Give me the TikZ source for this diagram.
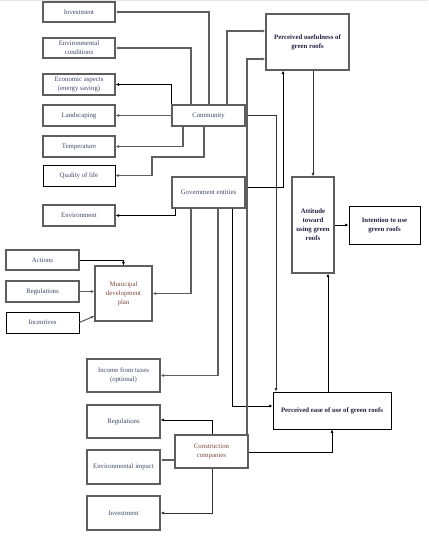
\documentclass[tikz,border=0pt]{standalone}
\usepackage{fontspec}
\setmainfont{Liberation Serif}
\usetikzlibrary{arrows.meta}
\definecolor{txt}{HTML}{3D4A66}
\definecolor{txtb}{HTML}{7A4A3A}
\definecolor{txtk}{HTML}{1E2240}
\definecolor{gline}{HTML}{5E5E5E}
\begin{document}
\begin{tikzpicture}[x=1pt,y=-1pt,
  box/.style={draw=gline, line width=1.1pt, fill=white, align=center, inner sep=1pt,
    font=\fontsize{6.8}{9}\selectfont, text=txt},
  kbox/.style={box, draw=black, line width=0.7pt},
  bold/.style={font=\fontsize{6.8}{9}\selectfont\bfseries, text=txtk},
  arr/.style={-{Latex[length=3.5pt,width=3pt]}},
  gl/.style={arr, draw=gline, line width=1.1pt},
  dl/.style={arr, draw=black!80, line width=0.8pt},
  bl/.style={arr, draw=black, line width=0.65pt}]
\useasboundingbox (0,0) rectangle (428,540);
\fill[black!10] (0,0) rectangle (428,1.5);
% nodes
\node[box, minimum width=72pt, minimum height=20pt] (inv1) at (79,12) {Investment};
\node[box, minimum width=72pt, minimum height=20pt] (envc) at (79,48) {Environmental\\conditions};
\node[box, minimum width=72pt, minimum height=21pt] (econ) at (79,84.5) {Economic aspects\\(energy saving)};
\node[box, minimum width=72pt, minimum height=21pt] (land) at (79,115.5) {Landscaping};
\node[box, minimum width=72pt, minimum height=21pt] (temp) at (79,146.5) {Temperature};
\node[kbox, minimum width=72pt, minimum height=21pt] (qol) at (79,175.5) {Quality of life};
\node[box, minimum width=72pt, minimum height=21pt] (env) at (79,215.5) {Environment};
\node[box, minimum width=73pt, minimum height=21pt] (comm) at (208.5,115.5) {Community};
\node[box, minimum width=73pt, minimum height=31pt] (gov) at (208.5,192.5) {Government entities};
\node[box, minimum width=73pt, minimum height=20pt] (act) at (42.5,260) {Actions};
\node[box, minimum width=73pt, minimum height=21pt] (reg1) at (42.5,291.5) {Regulations};
\node[kbox, minimum width=73pt, minimum height=21pt] (inc) at (42.5,322.5) {Incentives};
\node[box, minimum width=57pt, minimum height=55pt, text=txtb] (mdp) at (123.5,293.5) {Municipal\\development\\plan};
\node[box, minimum width=73pt, minimum height=33pt] (tax) at (123.5,375.5) {Income from taxes\\(optional)};
\node[box, minimum width=73pt, minimum height=33pt] (reg2) at (123.5,421.5) {Regulations};
\node[box, minimum width=73pt, minimum height=34pt] (envi) at (123.5,467) {Environmental impact};
\node[box, minimum width=73pt, minimum height=34pt] (inv2) at (123.5,513) {Investment};
\node[box, minimum width=73pt, minimum height=33pt, text=txtb] (cc) at (211.5,451.5) {Construction\\companies};
\node[box, bold, minimum width=83pt, minimum height=56pt] (pu) at (307.5,42) {Perceived usefulness of\\green roofs};
\node[box, bold, minimum width=42pt, minimum height=96pt] (att) at (313,225) {Attitude\\toward\\using green\\roofs};
\node[kbox, bold, minimum width=71pt, minimum height=38pt] (int) at (384.5,225) {Intention to use\\green roofs};
\node[kbox, bold, minimum width=118pt, minimum height=37pt] (peou) at (332,410.5) {Perceived ease of use of green roofs};
% connectors from Community
\draw[gl] (209,0 |- comm.north) |- (inv1.east);
\draw[gl] (191,0 |- comm.north) |- (envc.east);
\draw[bl] (comm.north west) |- (econ.east);
\draw[gl] (comm.west) -- (land.east);
\draw[gl] (183,0 |- comm.south) |- (temp.east);
\draw[gl] (204,0 |- comm.south) -- (204,157) -| (152,175.5) -- (qol.east);
\draw[gl] (227,0 |- comm.north) |- (pu.west |- 0,31);
\draw[dl] (comm.east) -- (276,115.5) -- (276,0 |- peou.north);
% connectors from Government entities
\draw[bl] (gov.east |- 0,187) -- (283,187) -- (283,0 |- pu.south);
\draw[bl] (175,0 |- gov.south) |- (env.east);
\draw[gl] (191,0 |- gov.south) |- (mdp.east);
\draw[gl] (218,0 |- gov.south) |- (tax.east);
\draw[bl] (232,0 |- gov.south) |- (peou.west |- 0,406);
% into the municipal plan
\draw[bl] (act.east) -| (mdp.north);
\draw[gl] (reg1.east) -- (mdp.west |- reg1.east);
\draw[gl] (inc.east) -- (mdp.west |- 0,316);
% from Construction companies
\draw[gl] (247,0 |- cc.north) |- (pu.west |- 0,59);
\draw[bl] (212,0 |- cc.north) |- (reg2.east |- 0,420);
\draw[gl] (cc.west |- 0,460) -- (envi.east |- 0,460);
\draw[dl] (212,0 |- cc.south) |- (inv2.east);
\draw[bl] (cc.east |- 0,452) -| (332,0 |- peou.south);
% model core
\draw[dl] (313,0 |- pu.south) -- (313,0 |- att.north);
\draw[bl] (att.east) -- (int.west);
\draw[bl] (328,0 |- peou.north) -- (328,0 |- att.south);
\end{tikzpicture}
\end{document}
